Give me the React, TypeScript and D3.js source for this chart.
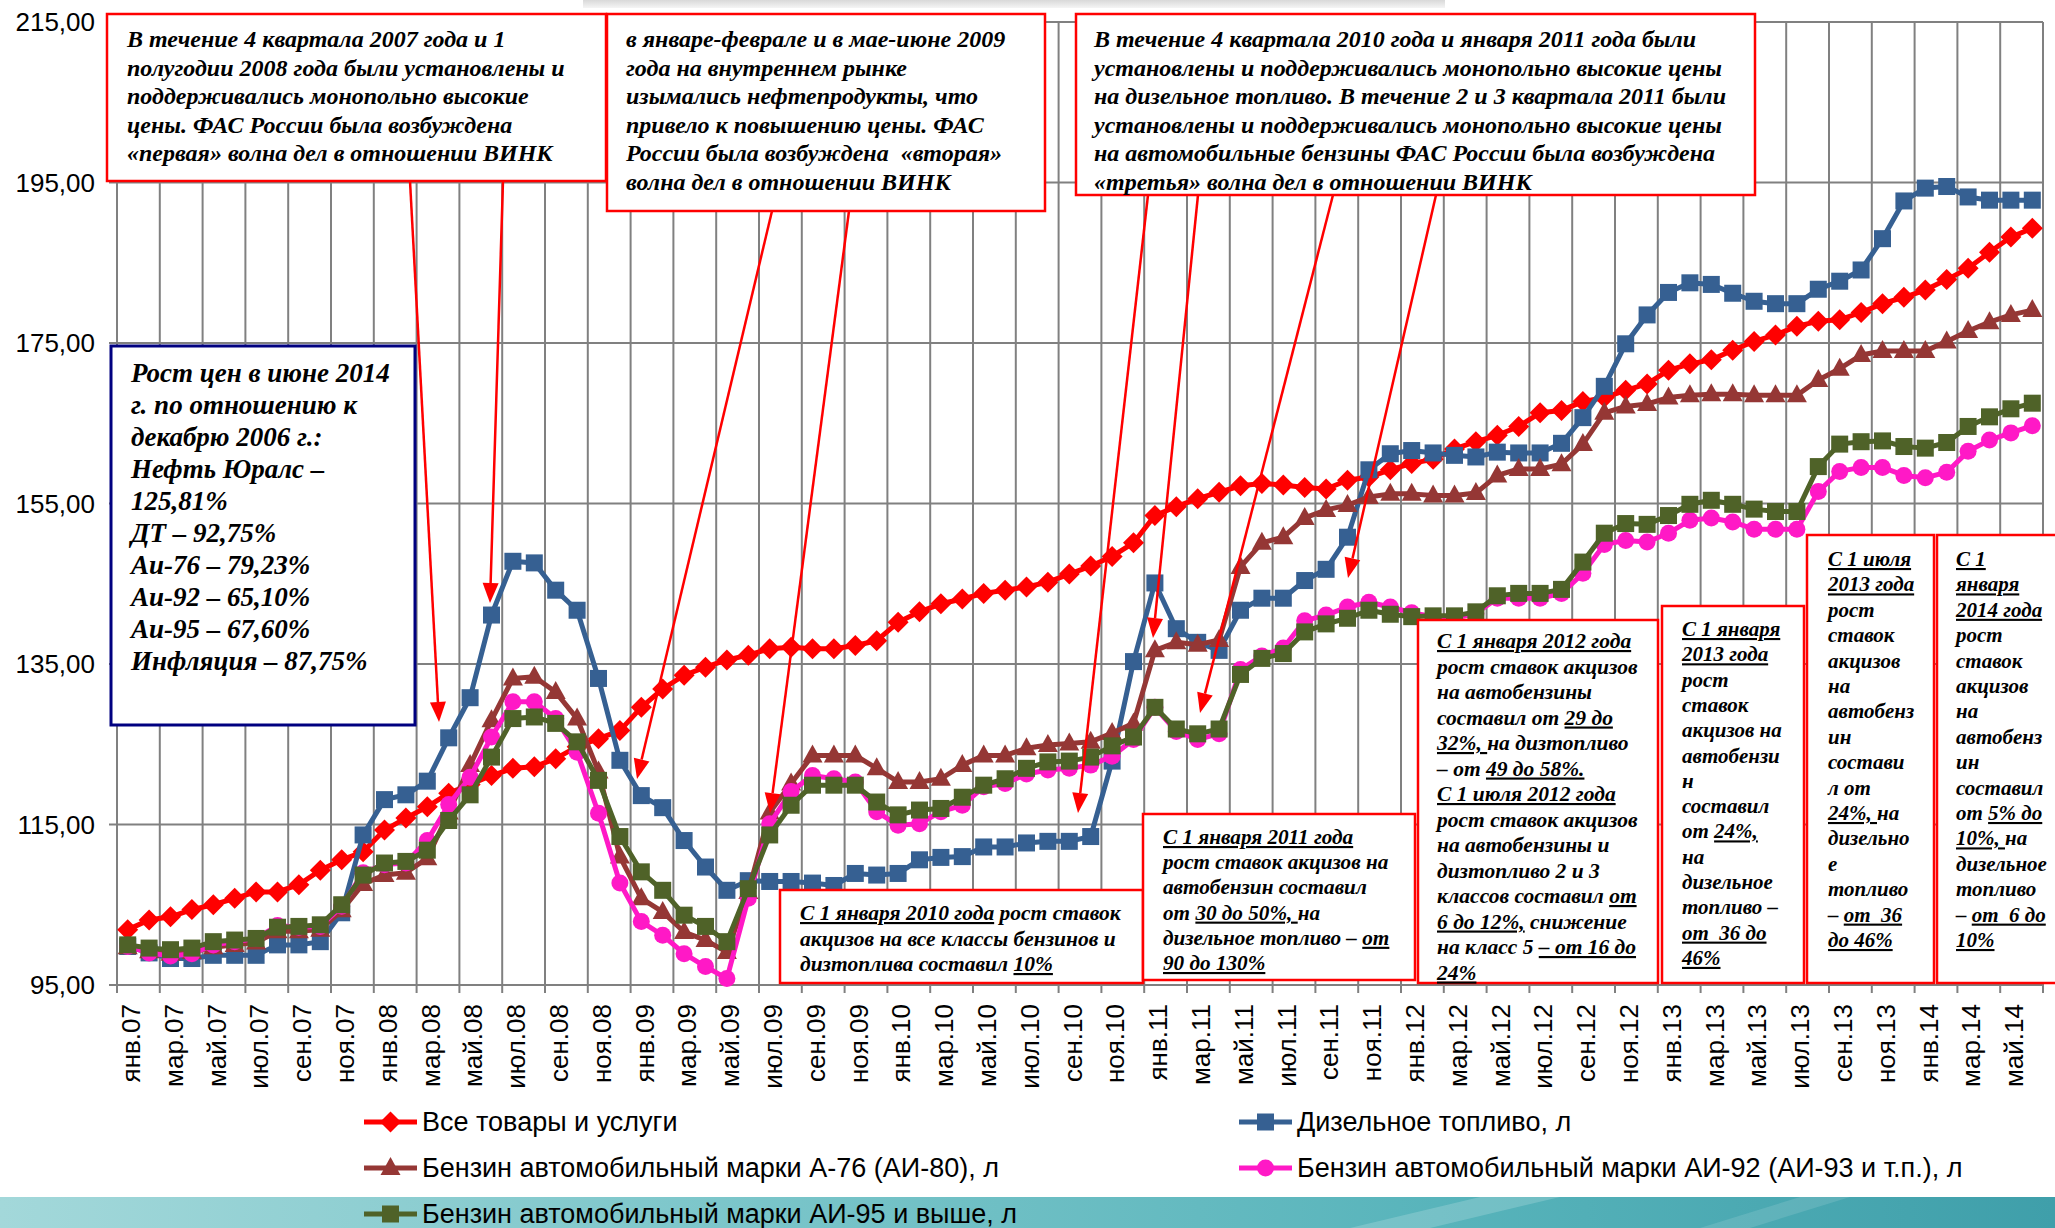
import React from "react";
import * as d3 from "d3";

const categories = [
  "янв.07","фев.07","мар.07","апр.07","май.07","июн.07","июл.07","авг.07","сен.07","окт.07","ноя.07","дек.07",
  "янв.08","фев.08","мар.08","апр.08","май.08","июн.08","июл.08","авг.08","сен.08","окт.08","ноя.08","дек.08",
  "янв.09","фев.09","мар.09","апр.09","май.09","июн.09","июл.09","авг.09","сен.09","окт.09","ноя.09","дек.09",
  "янв.10","фев.10","мар.10","апр.10","май.10","июн.10","июл.10","авг.10","сен.10","окт.10","ноя.10","дек.10",
  "янв.11","фев.11","мар.11","апр.11","май.11","июн.11","июл.11","авг.11","сен.11","окт.11","ноя.11","дек.11",
  "янв.12","фев.12","мар.12","апр.12","май.12","июн.12","июл.12","авг.12","сен.12","окт.12","ноя.12","дек.12",
  "янв.13","фев.13","мар.13","апр.13","май.13","июн.13","июл.13","авг.13","сен.13","окт.13","ноя.13","дек.13",
  "янв.14","фев.14","мар.14","апр.14","май.14","июн.14"
];

const allGoods = [
  101.9,103.1,103.5,104.4,105.0,105.8,106.6,106.6,107.5,109.3,110.6,111.6,
  114.3,115.8,117.2,118.9,120.0,121.1,122.0,122.2,123.2,124.7,125.7,126.7,
  129.6,131.9,133.6,134.6,135.5,136.1,136.9,137.1,136.9,136.9,137.3,137.9,
  140.2,141.5,142.5,143.1,143.8,144.2,144.6,145.2,146.2,147.2,148.4,150.1,
  153.5,154.6,155.6,156.4,157.2,157.5,157.3,157.0,156.8,157.9,158.3,159.2,
  160.0,160.5,161.8,162.7,163.5,164.6,166.3,166.6,167.7,168.2,169.1,169.9,
  171.6,172.4,172.9,174.1,175.2,176.0,177.1,177.7,177.9,178.8,179.9,180.7,
  181.6,182.9,184.3,186.3,188.2,189.3
];

const diesel = [
  99.8,99.0,98.3,98.3,98.7,98.7,98.7,100.0,100.0,100.4,104.0,113.7,
  118.1,118.7,120.4,125.8,130.8,141.1,147.8,147.6,144.2,141.7,133.2,123.0,
  118.6,117.1,113.0,109.7,106.8,108.0,107.9,107.9,107.7,107.4,108.9,108.7,
  108.9,110.6,110.9,111.0,112.2,112.2,112.7,112.9,112.9,113.5,122.9,135.3,
  145.1,139.4,137.7,136.7,141.7,143.2,143.2,145.4,146.8,150.8,159.2,161.2,
  161.6,161.3,161.0,160.8,161.4,161.3,161.3,162.5,165.7,169.6,174.9,178.5,
  181.3,182.5,182.3,181.2,180.2,179.9,179.9,181.7,182.7,184.1,188.0,192.7,
  194.3,194.5,193.2,192.8,192.8,192.8
];

const a76 = [
  99.7,99.2,98.9,99.1,99.7,100.0,100.3,101.7,101.7,101.9,104.3,107.6,
  108.7,109.0,110.8,116.5,122.4,128.0,133.2,133.4,131.5,128.2,121.6,111.0,
  105.8,104.1,101.6,100.6,99.1,106.6,116.5,120.1,123.6,123.6,123.6,122.0,
  120.3,120.3,120.7,122.4,123.6,123.6,124.5,124.9,125.1,125.3,126.4,127.6,
  136.7,137.7,137.4,138.0,147.1,150.1,150.8,153.2,154.2,154.8,155.8,156.2,
  156.2,156.0,156.0,156.3,158.5,159.3,159.3,159.9,162.4,166.3,167.1,167.4,
  168.2,168.5,168.6,168.6,168.5,168.5,168.5,170.4,171.8,173.5,174.0,174.0,
  174.0,175.2,176.5,177.6,178.5,179.1
];

const ai92 = [
  99.8,99.0,98.6,98.9,100.0,100.4,100.8,102.4,102.2,102.3,104.8,109.0,
  110.0,110.2,113.0,117.5,120.9,125.9,130.3,130.3,128.2,124.0,116.4,107.7,
  102.9,101.2,98.9,97.3,95.8,105.8,115.1,119.1,121.1,120.7,120.3,116.6,
  114.9,115.1,116.6,117.4,119.7,120.1,121.3,121.8,122.0,122.4,123.5,125.6,
  129.6,126.6,125.6,126.3,134.3,136.0,137.0,140.4,141.1,142.1,142.7,142.1,
  141.4,140.9,140.7,141.3,143.2,143.2,143.2,143.8,146.3,149.9,150.4,150.2,
  151.3,152.9,153.2,152.7,151.8,151.8,151.8,156.5,159.0,159.5,159.5,158.5,
  158.2,158.9,161.5,162.9,163.8,164.7
];

const ai95 = [
  100.0,99.6,99.4,99.6,100.4,100.6,100.8,102.2,102.3,102.5,105.0,108.7,
  110.2,110.4,111.8,115.5,118.7,123.4,128.2,128.4,127.6,125.3,120.5,113.5,
  109.1,106.8,103.7,102.3,100.4,107.0,113.7,117.4,119.9,119.9,119.9,117.8,
  116.2,116.8,117.0,118.4,119.9,120.7,122.0,122.8,122.9,123.4,124.8,125.9,
  129.6,126.9,126.3,126.9,133.7,135.7,136.3,139.0,140.0,140.7,141.7,141.2,
  140.9,141.0,141.0,141.5,143.5,143.8,143.8,144.3,147.7,151.3,152.5,152.4,
  153.5,154.9,155.4,154.9,154.3,154.0,154.0,159.6,162.4,162.7,162.8,162.1,
  161.9,162.6,164.6,165.8,166.8,167.5
];

const yTicks = [95, 115, 135, 155, 175, 195, 215];

const seriesNames = [
  "Все товары и услуги",
  "Дизельное топливо, л",
  "Бензин автомобильный марки А-76 (АИ-80), л",
  "Бензин автомобильный марки АИ-92 (АИ-93 и т.п.), л",
  "Бензин автомобильный марки АИ-95 и выше, л",
];

// annotation texts ("_" marks underlined parts)
const box1Lines = [
  "В течение 4 квартала 2007 года и 1",
  "полугодии 2008 года были установлены и",
  "поддерживались монопольно высокие",
  "цены. ФАС России была возбуждена",
  "«первая» волна дел в отношении ВИНК",
];
const box2Lines = [
  "в январе-феврале и в мае-июне 2009",
  "года на внутреннем рынке",
  "изымались нефтепродукты, что",
  "привело к повышению цены. ФАС",
  "России была возбуждена  «вторая»",
  "волна дел в отношении ВИНК",
];
const box3Lines = [
  "В течение 4 квартала 2010 года и января 2011 года были",
  "установлены и поддерживались монопольно высокие цены",
  "на дизельное топливо. В течение 2 и 3 квартала 2011 были",
  "установлены и поддерживались монопольно высокие цены",
  "на автомобильные бензины ФАС России была возбуждена",
  "«третья» волна дел в отношении ВИНК",
];
const box4Lines = [
  "Рост цен в июне 2014",
  "г. по отношению к",
  "декабрю 2006 г.:",
  "Нефть Юралс –",
  "125,81%",
  "ДТ – 92,75%",
  "Аи-76 – 79,23%",
  "Аи-92 – 65,10%",
  "Аи-95 – 67,60%",
  "Инфляция – 87,75%",
];
const box5Lines = [
  "_С 1 января 2010 года_ рост ставок",
  "акцизов на все классы бензинов и",
  "дизтоплива составил _10%_",
];
const box6Lines = [
  "_С 1 января 2011 года_",
  "рост ставок акцизов на",
  "автобензин составил",
  "от _30 до 50%, _на",
  "дизельное топливо – _от_",
  "_90 до 130%_",
];
const box7Lines = [
  "_С 1 января 2012 года_",
  "рост ставок акцизов",
  "на автобензины",
  "составил от _29 до_",
  "_32%, _на дизтопливо",
  "– от _49 до 58%._",
  "_С 1 июля 2012 года_",
  "рост ставок акцизов",
  "на автобензины и",
  "дизтопливо 2 и 3",
  "классов составил _от_",
  "_6 до 12%,_ снижение",
  "на класс 5 _– от 16 до_",
  "_24%_",
];
const box8Lines = [
  "_С 1 января_",
  "_2013 года_",
  "рост",
  "ставок",
  "акцизов на",
  "автобензи",
  "н",
  "составил",
  "от _24%,_",
  "на",
  "дизельное",
  "топливо –",
  "_от  36 до_",
  "_46%_",
];
const box9Lines = [
  "_С 1 июля_",
  "_2013 года_",
  "рост",
  "ставок",
  "акцизов",
  "на",
  "автобенз",
  "ин",
  "состави",
  "л от",
  "_24%, _на",
  "дизельно",
  "е",
  "топливо",
  "– _от  36_",
  "_до 46%_",
];
const box10Lines = [
  "_С 1_",
  "_января_",
  "_2014 года_",
  "рост",
  "ставок",
  "акцизов",
  "на",
  "автобенз",
  "ин",
  "составил",
  "от _5% до_",
  "_10%, _на",
  "дизельное",
  "топливо",
  "– _от  6 до_",
  "_10%_",
];

const W = 2055;
const H = 1228;
const PL = 117, PR = 2043, PT = 22, PB = 985;

const x = d3.scaleBand<string>().domain(categories).range([PL, PR]).padding(0);
const y = d3.scaleLinear().domain([95, 215]).range([PB, PT]);
const cx = (c: string) => (x(c) as number) + x.bandwidth() / 2;

const COLORS = ["#FF0000", "#366092", "#953735", "#FF19C6", "#4F6228"];
const MARKERS = ["diamond", "square", "triangle", "circle", "square"];
const seriesValues = [allGoods, diesel, a76, ai92, ai95];

function Marker({ kind, color, px, py }: { kind: string; color: string; px: number; py: number }) {
  if (kind === "diamond")
    return <path d={`M${px},${py - 10.5}L${px + 10.5},${py}L${px},${py + 10.5}L${px - 10.5},${py}Z`} fill={color} />;
  if (kind === "square")
    return <rect x={px - 8.5} y={py - 8.5} width={17} height={17} fill={color} />;
  if (kind === "triangle")
    return <path d={`M${px},${py - 11}L${px + 10},${py + 7}L${px - 10},${py + 7}Z`} fill={color} />;
  return <circle cx={px} cy={py} r={8.5} fill={color} />;
}

function parseLine(s: string) {
  const parts = s.split("_");
  return parts.map((t, i) => ({ t, u: i % 2 === 1 })).filter((p) => p.t.length > 0);
}

type Box = {
  x0: number; y0: number; x1: number; y1: number;
  stroke: string; sw: number; fs: number; tx: number; b0: number; lh: number; lines: string[];
};

const boxes: Box[] = [
  { x0: 107, y0: 14, x1: 606, y1: 181, stroke: "#FF0000", sw: 2.5, fs: 24, tx: 127, b0: 47, lh: 28.6, lines: box1Lines },
  { x0: 607, y0: 14, x1: 1045, y1: 211, stroke: "#FF0000", sw: 2.5, fs: 24, tx: 626, b0: 47, lh: 28.5, lines: box2Lines },
  { x0: 1076, y0: 14, x1: 1755, y1: 195, stroke: "#FF0000", sw: 2.5, fs: 24, tx: 1094, b0: 47, lh: 28.6, lines: box3Lines },
  { x0: 111, y0: 346, x1: 415, y1: 725, stroke: "#000080", sw: 3, fs: 27, tx: 131, b0: 382, lh: 32, lines: box4Lines },
  { x0: 780, y0: 890, x1: 1143, y1: 983, stroke: "#FF0000", sw: 2.5, fs: 21.5, tx: 800, b0: 920, lh: 25.5, lines: box5Lines },
  { x0: 1143, y0: 814, x1: 1415, y1: 980, stroke: "#FF0000", sw: 2.5, fs: 21.2, tx: 1163, b0: 844, lh: 25.2, lines: box6Lines },
  { x0: 1418, y0: 620, x1: 1658, y1: 983, stroke: "#FF0000", sw: 2.5, fs: 21.5, tx: 1437, b0: 648, lh: 25.5, lines: box7Lines },
  { x0: 1662, y0: 606, x1: 1804, y1: 983, stroke: "#FF0000", sw: 2.5, fs: 21, tx: 1682, b0: 636, lh: 25.3, lines: box8Lines },
  { x0: 1807, y0: 535, x1: 1934, y1: 983, stroke: "#FF0000", sw: 2.5, fs: 21, tx: 1828, b0: 566, lh: 25.4, lines: box9Lines },
  { x0: 1937, y0: 535, x1: 2070, y1: 983, stroke: "#FF0000", sw: 2.5, fs: 21, tx: 1956, b0: 566, lh: 25.4, lines: box10Lines },
];

const arrows = [
  [410, 181, 439, 722],
  [503, 181, 490, 603],
  [772, 211, 637, 779],
  [849, 211, 770, 813],
  [1148, 195, 1078, 813],
  [1198, 195, 1153, 638],
  [1333, 195, 1200, 713],
  [1436, 195, 1348, 578],
];

function Arrow({ a }: { a: number[] }) {
  const [x0, y0, x1, y1] = a;
  const dx = x1 - x0, dy = y1 - y0;
  const L = Math.hypot(dx, dy);
  const ux = dx / L, uy = dy / L;
  const hl = 20, hw = 8;
  const bx = x1 - ux * hl, by = y1 - uy * hl;
  const px = -uy, py = ux;
  return (
    <g>
      <line x1={x0} y1={y0} x2={bx} y2={by} stroke="#FF0000" strokeWidth={2.5} />
      <path d={`M${x1},${y1}L${bx + px * hw},${by + py * hw}L${bx - px * hw},${by - py * hw}Z`} fill="#FF0000" />
    </g>
  );
}

export default function App() {
  const line = d3.line<number>()
    .x((_, i) => cx(categories[i]))
    .y((v) => y(v));

  const vGrid = categories.filter((_, i) => i % 2 === 0).map((c) => x(c) as number).concat([PR]);
  const tickCats = categories.filter((_, i) => i % 2 === 0);

  const legendPos = [
    [364, 1122], [1239, 1122],
    [364, 1168], [1239, 1168],
    [364, 1214],
  ];

  return (
    <svg width={W} height={H} style={{ position: "absolute", left: 0, top: 0, display: "block", background: "#fff" }}>
      <defs>
        <linearGradient id="teal" x1="0" y1="0" x2="1" y2="0">
          <stop offset="0" stopColor="#a3d8da" />
          <stop offset="0.35" stopColor="#7cc6ca" />
          <stop offset="0.7" stopColor="#58b4bb" />
          <stop offset="1" stopColor="#3f9faa" />
        </linearGradient>
        <linearGradient id="hdr" x1="0" y1="0" x2="0" y2="1">
          <stop offset="0" stopColor="#cfcfcf" />
          <stop offset="1" stopColor="#f2f2f2" />
        </linearGradient>
      </defs>
      <rect x={0} y={0} width={W} height={H} fill="#fff" />
      {/* faded header remnant */}
      <rect x={583} y={0} width={862} height={8} fill="url(#hdr)" opacity={0.8} />

      {/* bottom decorative band */}
      <rect x={0} y={1197} width={W} height={H - 1197} fill="url(#teal)" />
      <path d="M1350,1228 L1480,1197 L1560,1197 L1430,1228Z" fill="#ffffff" opacity={0.18} />
      <path d="M1700,1228 L1800,1197 L1850,1197 L1750,1228Z" fill="#ffffff" opacity={0.12} />

      {/* grid */}
      <g stroke="#808080" strokeWidth={2}>
        {yTicks.map((t) => (
          <line key={"h" + t} x1={PL - 8} x2={PR} y1={y(t)} y2={y(t)} />
        ))}
        {vGrid.map((gx, i) => (
          <line key={"v" + i} x1={gx} x2={gx} y1={PT} y2={PB + 8} />
        ))}
      </g>

      {/* y labels */}
      <g fontFamily="Liberation Sans, Arial, sans-serif" fontSize={26} fill="#000">
        {yTicks.map((t) => (
          <text key={"yl" + t} x={95} y={y(t)} dy="0.35em" textAnchor="end">
            {t.toFixed(2).replace(".", ",")}
          </text>
        ))}
      </g>

      {/* x labels */}
      <g fontFamily="Liberation Sans, Arial, sans-serif" fontSize={26} fill="#000">
        {tickCats.map((c) => (
          <text key={"xl" + c} transform={`translate(${cx(c) + 3},1004) rotate(-90)`} textAnchor="end" dy="0.36em">
            {c}
          </text>
        ))}
      </g>

      {/* series */}
      {seriesValues.map((vals, si) => (
        <g key={"s" + si}>
          <path d={line(vals) as string} fill="none" stroke={COLORS[si]} strokeWidth={5} strokeLinejoin="round" />
          {vals.map((v, i) => (
            <Marker key={i} kind={MARKERS[si]} color={COLORS[si]} px={cx(categories[i])} py={y(v)} />
          ))}
        </g>
      ))}

      {/* annotation boxes */}
      {boxes.map((b, bi) => (
        <g key={"b" + bi}>
          <rect x={b.x0} y={b.y0} width={b.x1 - b.x0} height={b.y1 - b.y0} fill="#fff" stroke={b.stroke} strokeWidth={b.sw} />
          <text fontFamily="Liberation Serif, Times New Roman, serif" fontWeight="bold" fontStyle="italic" fontSize={b.fs} fill="#000">
            {b.lines.map((ln, li) => (
              <tspan key={li} x={b.tx} y={b.b0 + li * b.lh} style={{ whiteSpace: "pre" }}>
                {parseLine(ln).map((p, pi) => (
                  <tspan key={pi} style={p.u ? { textDecoration: "underline" } : undefined}>{p.t}</tspan>
                ))}
              </tspan>
            ))}
          </text>
        </g>
      ))}

      {/* arrows */}
      {arrows.map((a, i) => <Arrow key={"a" + i} a={a} />)}

      {/* legend */}
      <g fontFamily="Liberation Sans, Arial, sans-serif" fontSize={27} fill="#000">
        {seriesNames.map((n, i) => {
          const [lx, ly] = legendPos[i];
          return (
            <g key={"lg" + i}>
              <line x1={lx} x2={lx + 53} y1={ly} y2={ly} stroke={COLORS[i]} strokeWidth={5} />
              <Marker kind={MARKERS[i]} color={COLORS[i]} px={lx + 26.5} py={ly} />
              <text x={lx + 58} y={ly} dy="0.35em">{n}</text>
            </g>
          );
        })}
      </g>
    </svg>
  );
}
